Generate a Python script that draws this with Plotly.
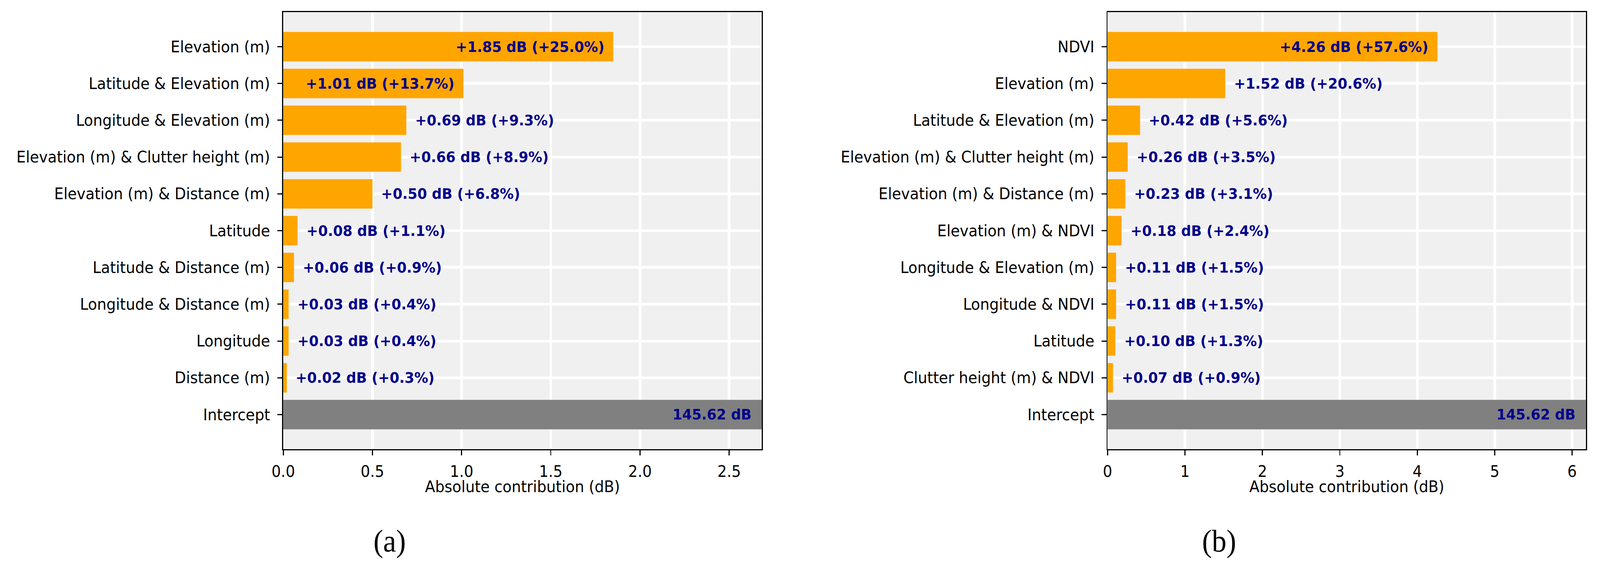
import plotly.graph_objects as go

W, H = 4375, 1444

# ---------------- data ----------------
labels_a = ["Elevation (m)", "Latitude & Elevation (m)", "Longitude & Elevation (m)",
            "Elevation (m) & Clutter height (m)", "Elevation (m) & Distance (m)",
            "Latitude", "Latitude & Distance (m)", "Longitude & Distance (m)",
            "Longitude", "Distance (m)"]
values_a = [1.85, 1.01, 0.69, 0.66, 0.50, 0.08, 0.06, 0.03, 0.03, 0.02]
pct_a = [25.0, 13.7, 9.3, 8.9, 6.8, 1.1, 0.9, 0.4, 0.4, 0.3]
intercept_a = 145.62

labels_b = ["NDVI", "Elevation (m)", "Latitude & Elevation (m)",
            "Elevation (m) & Clutter height (m)", "Elevation (m) & Distance (m)",
            "Elevation (m) & NDVI", "Longitude & Elevation (m)", "Longitude & NDVI",
            "Latitude", "Clutter height (m) & NDVI"]
values_b = [4.26, 1.52, 0.42, 0.26, 0.23, 0.18, 0.11, 0.11, 0.10, 0.07]
pct_b = [57.6, 20.6, 5.6, 3.5, 3.1, 2.4, 1.5, 1.5, 1.3, 0.9]
intercept_b = 145.62

intercept_label = "Intercept"
x_title = "Absolute contribution (dB)"
panel_labels = ["(a)", "(b)"]

# ---------------- style ----------------
FONT = "DejaVu Sans"
FS = 40.5
FS_BOLD = 38
ORANGE = "#FFA500"
GRAY = "#808080"
NAVY = "#00008B"
BG = "#F0F0F0"

fig = go.Figure()

panels = [
    dict(labels=labels_a, values=values_a, pct=pct_a, icpt=intercept_a,
         xd=[748 / W, 2066 / W], dtick=0.5, fmt=".1f", ax="", cx=1041),
    dict(labels=labels_b, values=values_b, pct=pct_b, icpt=intercept_b,
         xd=[3018.6 / W, 4336 / W], dtick=1, fmt="d", ax="2", cx=3326),
]

ydom = [1 - 1150 / H, 1 - 31 / H]
annotations = []
layout_axes = {}

for i, p in enumerate(panels):
    cats = p["labels"] + [intercept_label]
    vals = p["values"] + [p["icpt"]]
    colors = [ORANGE] * len(p["values"]) + [GRAY]
    xmax = max(p["values"]) * 1.45
    n = len(cats)
    xa = "x" + p["ax"]
    ya = "y" + p["ax"]
    fig.add_trace(go.Bar(
        x=vals, y=cats, orientation="h", marker=dict(color=colors, line=dict(width=0)),
        xaxis=xa, yaxis=ya, showlegend=False, hoverinfo="skip", cliponaxis=True,
    ))
    layout_axes["xaxis" + p["ax"]] = dict(
        domain=p["xd"], anchor=ya, range=[0, xmax], dtick=p["dtick"], tick0=0,
        tickformat=p["fmt"], showgrid=True, gridcolor="white", gridwidth=7,
        zeroline=False, showline=True, linecolor="black", linewidth=3, mirror=True,
        ticks="outside", ticklen=13, tickwidth=3, tickcolor="black",
        tickfont=dict(family=FONT, size=FS, color="black"), ticklabelstandoff=6,
    )
    layout_axes["yaxis" + p["ax"]] = dict(
        domain=ydom, anchor=xa, type="category", categoryorder="array", categoryarray=cats,
        range=[n - 1 + 0.94, -0.94], showgrid=True, gridcolor="white", gridwidth=7,
        zeroline=False, showline=True, linecolor="black", linewidth=3, mirror=True,
        ticks="outside", ticklen=13, tickwidth=3, tickcolor="black",
        tickfont=dict(family=FONT, size=FS, color="black"), ticklabelstandoff=12,
    )
    vmax = max(p["values"])
    for c, v, pc in zip(p["labels"], p["values"], p["pct"]):
        inside = v > 0.5 * vmax
        annotations.append(dict(
            x=v, y=c, xref=xa, yref=ya, text=f"<b>+{v:.2f} dB (+{pc:.1f}%)</b>",
            showarrow=False, xanchor="right" if inside else "left",
            xshift=-22 if inside else 22, yanchor="middle",
            font=dict(family=FONT, size=FS_BOLD, color=NAVY),
        ))
    annotations.append(dict(
        x=xmax * 0.98, y=intercept_label, xref=xa, yref=ya,
        text=f"<b>{p['icpt']:.2f} dB</b>", showarrow=False, xanchor="right",
        yanchor="middle", font=dict(family=FONT, size=FS_BOLD, color=NAVY),
    ))
    annotations.append(dict(
        x=(p["xd"][0] + p["xd"][1]) / 2, y=1 - 1246 / H, xref="paper", yref="paper",
        text=x_title, showarrow=False, xanchor="center", yanchor="middle",
        font=dict(family=FONT, size=FS, color="black"),
    ))
    annotations.append(dict(
        x=p["cx"] / W, y=1 - 1385 / H, xref="paper", yref="paper",
        text=panel_labels[i], showarrow=False,
        xanchor="center", yanchor="middle",
        font=dict(family="Liberation Serif", size=80, color="black"),
    ))

fig.update_layout(
    width=W, height=H, margin=dict(l=0, r=0, t=0, b=0),
    paper_bgcolor="white", plot_bgcolor=BG, bargap=0.2,
    annotations=annotations, **layout_axes,
)

# fit the fixed-size figure exactly into the browser viewport
fit_js = """
(function(){
  var gd = document.getElementById('{plot_id}');
  document.documentElement.style.overflow = 'hidden';
  document.body.style.overflow = 'hidden';
  document.body.style.margin = '0';
  document.body.style.padding = '0';
  var sx = window.innerWidth / %d, sy = window.innerHeight / %d;
  gd.style.transformOrigin = '0 0';
  gd.style.transform = 'scale(' + sx + ',' + sy + ')';
})();
""" % (W, H)

fig.write_html("out.html", post_script=fit_js, config={"displayModeBar": False})
